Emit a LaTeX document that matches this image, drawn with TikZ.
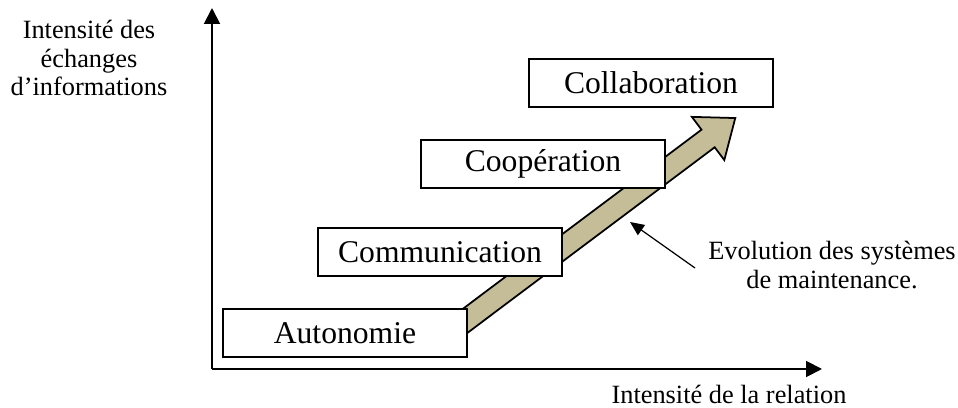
\documentclass[tikz,border=0pt]{standalone}
\usepackage{fontspec}
\setmainfont{Liberation Serif}
\usetikzlibrary{arrows.meta, positioning}
\definecolor{khaki}{RGB}{196,189,151}
\tikzset{
	stage/.style={
		rectangle,
		draw=black, line width=1pt,
		fill=white,
		minimum width=4.88cm,
		minimum height=0.96cm,
		inner sep=0pt,
		text centered,
		font=\fontsize{18}{20}\selectfont,
	},
	axis/.style={line width=1.1pt, -{Triangle[length=9pt,width=9pt]}},
	note/.style={font=\fontsize{15}{16}\selectfont, align=center, inner sep=2pt},
}

\begin{document}
\begin{tikzpicture}[x=0.02cm, y=-0.02cm]
        \useasboundingbox (0,0) rectangle (958,408);
        \coordinate (O) at (212,369);
        \coordinate (ytop) at (212,8);
        \coordinate (xend) at (822,369);
        \draw[axis] (O) -- (ytop);
        \draw[axis] (O) -- (xend);

        % evolution arrow, behind the boxes
        \begin{scope}[shift={(445,336)}, rotate=36.9]
            \draw[fill=khaki, line width=1pt, line join=miter]
                (0,-11) -- (329,-11) -- (329,-27) -- (363,0) -- (329,27) -- (329,11) -- (0,11) -- cycle;
        \end{scope}

        \node[stage] (A) at (345,333) {Autonomie};
        \node[stage] (B) at (440,252) {Communication};
        \node[stage] (C) at (543,164) {Coopération};
        \node[stage] (D) at (651,83) {Collaboration};

        \node[note] (Y) at (89,58) {Intensité des\\échanges\\d’informations};
        \node[note, anchor=base] (X) at (729,404) {Intensité de la relation};
        \node[note] (E) at (832,265) {Evolution des systèmes\\de maintenance.};

        \coordinate (from) at (695,268);
        \coordinate (hit) at (630,222);
        \draw[line width=0.7pt, -{Triangle[length=8pt,width=7pt]}] (from) -- (hit);
    \end{tikzpicture}
\end{document}
